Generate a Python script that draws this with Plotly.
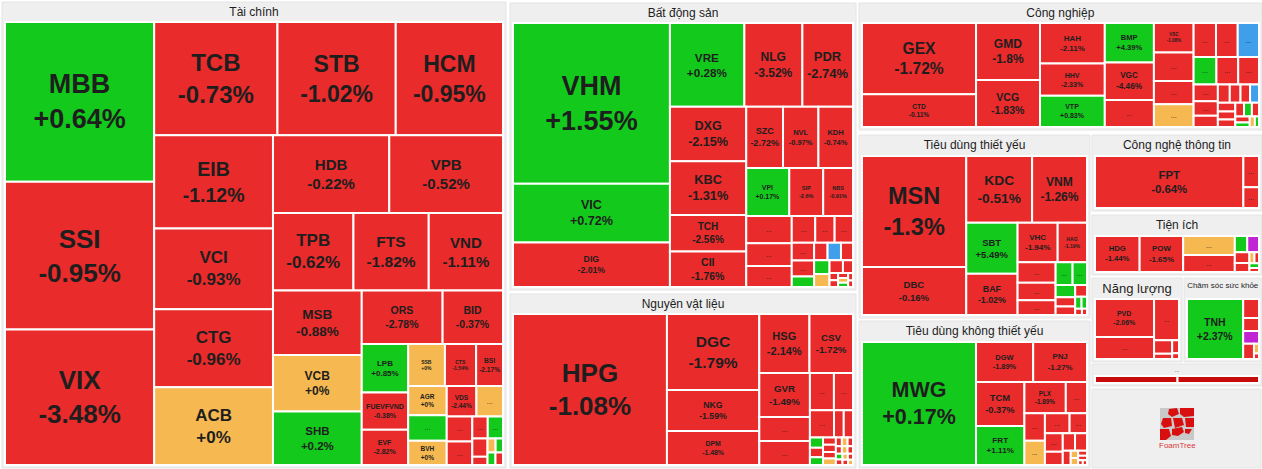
import plotly.graph_objects as go

# ---------------- data ----------------
# Tài chính
fin_names = ["MBB", "SSI", "VIX", "TCB", "STB", "HCM", "EIB", "VCI", "CTG", "ACB", "HDB", "VPB",
             "TPB", "FTS", "VND", "MSB", "VCB", "SHB", "ORS", "BID", "LPB", "FUEVFVND", "EVF",
             "SSB", "CTS", "BSI", "AGR", "BVH", "VDS"]
fin_change = ["+0.64%", "-0.95%", "-3.48%", "-0.73%", "-1.02%", "-0.95%", "-1.12%", "-0.93%",
              "-0.96%", "+0%", "-0.22%", "-0.52%", "-0.62%", "-1.82%", "-1.11%", "-0.88%", "+0%",
              "+0.2%", "-2.78%", "-0.37%", "+0.85%", "-0.38%", "-2.82%", "+0%", "-1.54%", "-2.17%",
              "+0%", "+0%", "-2.44%"]
fin_weight = [22910, 21170, 19430, 13407, 12862, 11663, 10672, 9200, 8900, 8890, 8700, 8510,
              6000, 5616, 5538, 5504, 4816, 4558, 4150, 3100, 2160, 1665, 1575, 1484, 1260, 1085,
              1080, 900, 870]
fin_other_weight = [945, 780, 610, 580, 324, 320, 270, 120, 110, 100, 95, 90]
fin_other_trend = ["up", "flat", "down", "down", "down", "up", "down", "down", "flat", "up", "up", "down"]

# Bất động sản
re_names = ["VHM", "VIC", "DIG", "VRE", "NLG", "PDR", "DXG", "KBC", "TCH", "CII", "SZC", "NVL",
            "KDH", "VPI", "SIP", "NBS"]
re_change = ["+1.55%", "+0.72%", "-2.01%", "+0.28%", "-3.52%", "-2.74%", "-2.15%", "-1.31%",
             "-2.56%", "-1.76%", "-2.72%", "-0.97%", "-0.74%", "+0.17%", "-2.6%", "-0.91%"]
re_weight = [24009, 8758, 6644, 5928, 4617, 4030, 3965, 3900, 2640, 2585, 2145, 2064, 2016, 1968,
             1551, 1363]
re_other_weight = [1175, 984, 912, 598, 494, 468, 378, 336, 225, 224, 223, 200, 199, 192, 160,
                   120, 60, 55, 50, 45, 40, 35, 30]
re_other_trend = ["down", "down", "down", "down", "down", "down", "down", "down", "up", "down",
                  "floor", "down", "up", "flat", "down", "down", "down", "down", "down", "flat",
                  "up", "down", "down"]

# Nguyên vật liệu
mat_names = ["HPG", "DGC", "NKG", "DPM", "HSG", "CSV", "GVR"]
mat_change = ["-1.08%", "-1.79%", "-1.59%", "-1.48%", "-2.14%", "-1.72%", "-1.49%"]
mat_weight = [22046, 6660, 3600, 2970, 2809, 2438, 2112]
mat_other_weight = [1152, 1150, 850, 675, 621, 252, 238, 126, 120, 96, 88, 87, 80, 79, 50, 48,
                    45, 42, 40, 38, 36, 35, 30, 29, 28, 25]
mat_other_trend = ["down", "down", "down", "down", "down", "down", "down", "up", "down", "up",
                   "down", "down", "down", "flat", "down", "flat", "down", "down", "flat", "down",
                   "up", "down", "flat", "down", "down", "flat"]

# Công nghiệp
ind_names = ["GEX", "CTD", "GMD", "VCG", "HAH", "HHV", "VTP", "BMP", "VGC", "VSC"]
ind_change = ["-1.72%", "-0.11%", "-1.8%", "-1.83%", "-2.11%", "-2.33%", "+0.83%", "+4.39%",
              "-4.46%", "-1.08%"]
ind_weight = [7490, 3424, 3360, 2760, 2418, 1922, 1860, 1786, 1692, 1080]
ind_other_weight = [1222, 1040, 850, 830, 700, 680, 666, 576, 550, 525, 375, 322, 252, 200, 180,
                    160, 150, 140, 130, 120, 110, 100, 90, 80, 60, 50, 40]
ind_other_trend = ["down", "down", "down", "flat", "down", "down", "floor", "up", "down", "down",
                   "down", "down", "down", "down", "down", "down", "floor", "down", "down", "down",
                   "down", "up", "down", "down", "up", "flat", "up"]

# Tiêu dùng thiết yếu
sta_names = ["MSN", "DBC", "KDC", "VNM", "SBT", "BAF", "VHC", "HAG"]
sta_change = ["-1.3%", "-0.16%", "-0.51%", "-1.26%", "+5.49%", "-1.02%", "-1.94%", "-1.19%"]
sta_weight = [10791, 4653, 4092, 3410, 2448, 1968, 1476, 1080]
sta_other_weight = [725, 625, 520, 360, 306, 221, 169, 156, 130, 70, 60, 40, 30]
sta_other_trend = ["down", "down", "down", "up", "up", "up", "down", "down", "down", "up", "up",
                   "down", "down"]

# Công nghệ thông tin
it_names = ["FPT"]
it_change = ["-0.64%"]
it_weight = [7592]
it_other_weight = [480, 320]
it_other_trend = ["down", "down"]

# Tiện ích
ut_names = ["HDG", "POW"]
ut_change = ["-1.44%", "-1.65%"]
ut_weight = [1440, 1404]
ut_other_weight = [882, 784, 180, 170, 143, 117, 50, 45, 40, 35]
ut_other_trend = ["flat", "down", "up", "ceiling", "down", "down", "flat", "down", "up", "down"]

# Năng lượng
en_names = ["PVD"]
en_change = ["-2.06%"]
en_weight = [2016]
en_other_weight = [1176, 925, 221, 85, 80, 35]
en_other_trend = ["down", "down", "down", "down", "down", "down"]

# Chăm sóc sức khỏe
hc_names = ["TNH"]
hc_change = ["+2.37%"]
hc_weight = [3068]
hc_other_weight = [272, 187, 185, 150, 45, 25]
hc_other_trend = ["down", "down", "ceiling", "down", "flat", "down"]

# Nhóm khác ("...")
ot_names = []
ot_change = []
ot_weight = []
ot_other_weight = [486, 480]
ot_other_trend = ["down", "down"]

# Tiêu dùng không thiết yếu
dis_names = ["MWG", "DGW", "PNJ", "TCM", "FRT", "PLX"]
dis_change = ["+0.17%", "-1.89%", "-1.27%", "-0.37%", "+1.11%", "-1.89%"]
dis_weight = [13038, 2124, 2000, 1980, 1755, 1204]
dis_other_weight = [616, 522, 464, 460, 324, 306, 220, 200, 195, 105, 50, 48, 40, 38, 20, 18]
dis_other_trend = ["down", "down", "flat", "down", "down", "down", "down", "down", "down", "down",
                   "flat", "flat", "down", "down", "down", "down"]

# ---------------- styles / layout ----------------
W, H = 1262, 469
FONT = "Liberation Sans, Arial, sans-serif"
TEXT_COLOR = "#1e1e1e"
ROOT_BG = "#efefef"
TREND_COLOR = {"up": "#12c91c", "down": "#e92b2b", "flat": "#f6b951",
               "ceiling": "#c124d2", "floor": "#3f9fea"}

LABEL_SIZE = {
    "MBB": 27, "SSI": 26, "VIX": 26, "TCB": 24, "STB": 23, "HCM": 23, "EIB": 19.5, "VCI": 17,
    "CTG": 17, "ACB": 17, "HDB": 15, "VPB": 15, "TPB": 17, "FTS": 15.5, "VND": 15, "MSB": 13.5,
    "ORS": 10.5, "BID": 10.5, "VCB": 12, "SHB": 11.5, "LPB": 8, "FUEVFVND": 7, "EVF": 7,
    "SSB": 5, "CTS": 5, "BSI": 6.8, "BVH": 6.5, "VDS": 6.5, "AGR": 6.5,
    "VHM": 27, "VIC": 12.6, "DIG": 8.7, "VRE": 11.7, "NLG": 12, "PDR": 13, "DXG": 12.6,
    "KBC": 12.7, "TCH": 10, "NVL": 7.4, "KDH": 7.5, "VPI": 7, "CII": 10.5, "SZC": 9, "SIP": 5.5,
    "NBS": 5.5,
    "HPG": 26, "DGC": 15.5, "NKG": 8.7, "DPM": 6.8, "HSG": 11, "CSV": 9.7, "GVR": 9.7,
    "GEX": 15.6, "CTD": 6.6, "GMD": 12, "VCG": 10.5, "HAH": 7.9, "HHV": 7, "VTP": 7, "BMP": 7.6,
    "VGC": 8.2, "VSC": 4.5,
    "MSN": 23.5, "DBC": 9.5, "KDC": 13.7, "VNM": 12, "SBT": 9.5, "BAF": 8.8, "VHC": 8, "HAG": 5,
    "FPT": 11.4, "HDG": 7.7, "POW": 7.9, "PVD": 7, "TNH": 10.5,
    "MWG": 21.5, "DGW": 7.4, "PNJ": 7.8, "TCM": 9.3, "FRT": 8.1, "PLX": 6.3,
}

# panel boxes in pixels: (left, right, top, bottom, header pad, header size, squarify ratio)
PANELS = [
    ("Tài chính", fin_names, fin_change, fin_weight, fin_other_weight, fin_other_trend,
     (2, 506, 2, 468, 20, 12, 1.074)),
    ("Bất động sản", re_names, re_change, re_weight, re_other_weight, re_other_trend,
     (510, 856, 3, 290, 20, 12, 1.6)),
    ("Nguyên vật liệu", mat_names, mat_change, mat_weight, mat_other_weight, mat_other_trend,
     (510, 856, 294, 468, 20, 12, 1.6)),
    ("Công nghiệp", ind_names, ind_change, ind_weight, ind_other_weight, ind_other_trend,
     (859, 1262, 3, 130, 20, 12, 1.7)),
    ("Tiêu dùng thiết yếu", sta_names, sta_change, sta_weight, sta_other_weight, sta_other_trend,
     (859, 1090, 135, 318, 21, 12, 1.6)),
    ("Công nghệ thông tin", it_names, it_change, it_weight, it_other_weight, it_other_trend,
     (1092, 1262, 135, 211, 21, 12, 1.0)),
    ("Tiện ích", ut_names, ut_change, ut_weight, ut_other_weight, ut_other_trend,
     (1092, 1262, 215, 275, 21, 12, 1.7)),
    ("Năng lượng", en_names, en_change, en_weight, en_other_weight, en_other_trend,
     (1092, 1182, 278, 362, 21, 13, 1.7)),
    ("Chăm sóc sức khỏe", hc_names, hc_change, hc_weight, hc_other_weight, hc_other_trend,
     (1184, 1262, 278, 362, 21, 8, 1.3)),
    ("...", ot_names, ot_change, ot_weight, ot_other_weight, ot_other_trend,
     (1092, 1262, 364, 386, 12, 11, 1.0)),
    ("Tiêu dùng không thiết yếu", dis_names, dis_change, dis_weight, dis_other_weight,
     dis_other_trend, (859, 1090, 321, 468, 21, 12, 1.0)),
]


def trend_of(ch):
    if ch.startswith("+0%") or ch in ("0%", "+0.0%"):
        return "flat"
    return "up" if ch.startswith("+") else "down"


def make_trace(title, names, change, weight, oweight, otrend, box):
    x0, x1, y0, y1, pad_t, hsize, ratio = box
    labels = [title] + list(names) + ["..."] * len(oweight)
    ids = [title] + [f"{title}|{i}" for i in range(len(labels) - 1)]
    parents = [""] + [title] * (len(labels) - 1)
    values = [0] + list(weight) + list(oweight)
    texts = [""] + list(change) + [""] * len(oweight)
    trends = [trend_of(c) for c in change] + list(otrend)
    leaf_colors = [TREND_COLOR[t] for t in trends]
    if title == "...":
        leaf_colors = ["#c70b0b" for _ in trends]
    colors = [ROOT_BG] + leaf_colors
    tmpl = ["<b>%{label}</b>"]
    sizes = [hsize]
    for n, c, v in zip(labels[1:], texts[1:], values[1:]):
        if c:
            tmpl.append("<b>%{label}<br>%{text}</b>")
            sizes.append(LABEL_SIZE.get(n, 8))
        elif v >= 300 and title != "...":
            tmpl.append("%{label}")
            sizes.append(7)
        else:
            tmpl.append("")
            sizes.append(6)
    line_w = [1] + [2] * (len(labels) - 1)
    line_c = ["#e4e4e4"] + ["#ffffff"] * (len(labels) - 1)
    return go.Treemap(
        ids=ids, labels=labels, parents=parents, values=values,
        branchvalues="remainder", sort=True,
        text=texts, texttemplate=tmpl, textposition="middle center",
        textfont=dict(family=FONT, size=sizes, color=TEXT_COLOR),
        marker=dict(colors=colors, line=dict(width=line_w, color=line_c),
                    pad=dict(t=pad_t, l=3, r=3, b=3)),
        tiling=dict(packing="squarify", squarifyratio=ratio, pad=0),
        pathbar=dict(visible=False),
        hoverinfo="label+text",
        domain=dict(x=[x0 / W, x1 / W], y=[1 - y1 / H, 1 - y0 / H]),
    )


fig = go.Figure()
for p in PANELS:
    fig.add_trace(make_trace(*p))


# FoamTree logo panel (decoration)
def px(x):
    return x / W


def py(y):
    return 1 - y / H


shapes = [dict(type="rect", xref="paper", yref="paper", x0=px(1092), x1=px(1261),
               y0=py(468), y1=py(389), fillcolor="#efefef", line=dict(color="#e4e4e4", width=1),
               layer="below")]
lx, ly = 1160, 408
shapes.append(dict(type="rect", xref="paper", yref="paper", x0=px(lx), x1=px(lx + 34),
                   y0=py(ly + 32), y1=py(ly), fillcolor="#c9c9c9", line=dict(width=0)))
cells = [
    [(9, 1), (17, 0), (19, 6), (12, 9), (8, 6)],
    [(20, 0), (34, 0), (34, 8), (24, 9), (20, 6)],
    [(3, 10), (11, 10), (12, 18), (4, 20), (1, 16)],
    [(13, 10), (22, 10), (24, 17), (15, 20)],
    [(25, 10), (34, 10), (34, 19), (26, 19)],
    [(0, 21), (9, 21), (11, 28), (6, 32), (0, 32)],
    [(12, 21), (22, 19), (24, 24), (18, 28), (12, 27)],
    [(25, 21), (32, 21), (29, 26), (25, 25)],
]
for c in cells:
    path = "M " + " L ".join(f"{px(lx + a):.5f},{py(ly + b):.5f}" for a, b in c) + " Z"
    shapes.append(dict(type="path", xref="paper", yref="paper", path=path,
                       fillcolor="#d90f0f", line=dict(width=0)))

fig.update_layout(
    width=W, height=H, margin=dict(l=0, r=0, t=0, b=0),
    paper_bgcolor="#ffffff", plot_bgcolor="#ffffff",
    font=dict(family=FONT, color=TEXT_COLOR),
    shapes=shapes,
    annotations=[dict(text="FoamTree", x=px(lx + 17), y=py(ly + 37), xref="paper", yref="paper",
                      xanchor="center", yanchor="middle", showarrow=False,
                      font=dict(size=8, color="#d83a3a", family=FONT))],
)

fig.write_html("out.html", config={"displayModeBar": False},
               post_script="document.body.style.margin='0';document.body.style.overflow='hidden';")
